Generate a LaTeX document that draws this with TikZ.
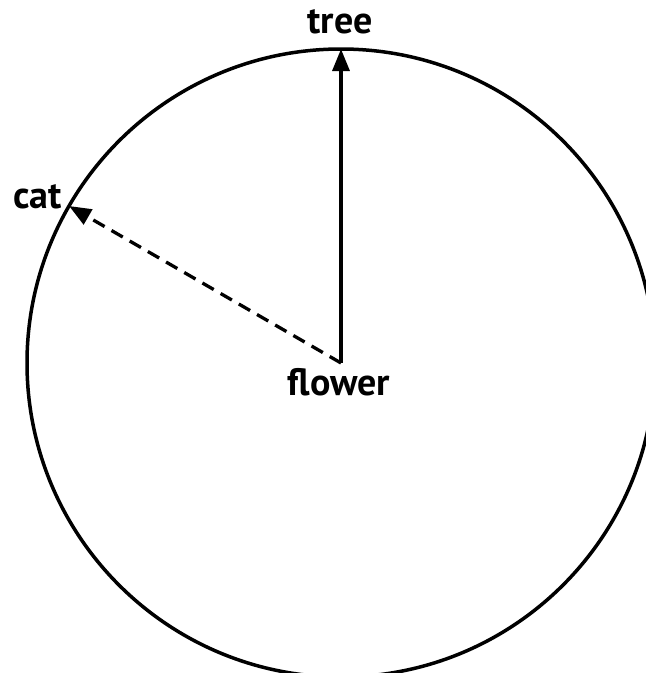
\documentclass[tikz,border=0pt]{standalone}
\usepackage{fontspec}
\setmainfont{PT Sans}
\usetikzlibrary{arrows.meta}
\tikzset{
  lbl/.style={font=\bfseries\fontsize{38}{40}\selectfont, inner sep=0pt},
  ring/.style={circle, draw, line width=3.5pt, minimum size=628pt, inner sep=0pt, outer sep=0pt},
  conn/.style={line width=3.3pt, -{Triangle[length=22pt,width=17pt]}},
}
\begin{document}
\begin{tikzpicture}[x=1pt,y=-1pt]
\useasboundingbox (0,0) rectangle (646,673);
\clip (0,0) rectangle (646,673);
\coordinate (c) at (341,363);
\node[ring] (circ) at (c) {};
\draw[conn] (c) -- (circ.90);
\draw[conn, dash pattern=on 13pt off 8pt] (c) -- (circ.150);
\node[lbl, anchor=base] (tree) at (340,33) {tree};
\node[lbl, anchor=base east] (cat) at (62,208) {cat};
\node[lbl, anchor=base] (flower) at (339,395) {flower};
\end{tikzpicture}
\end{document}
